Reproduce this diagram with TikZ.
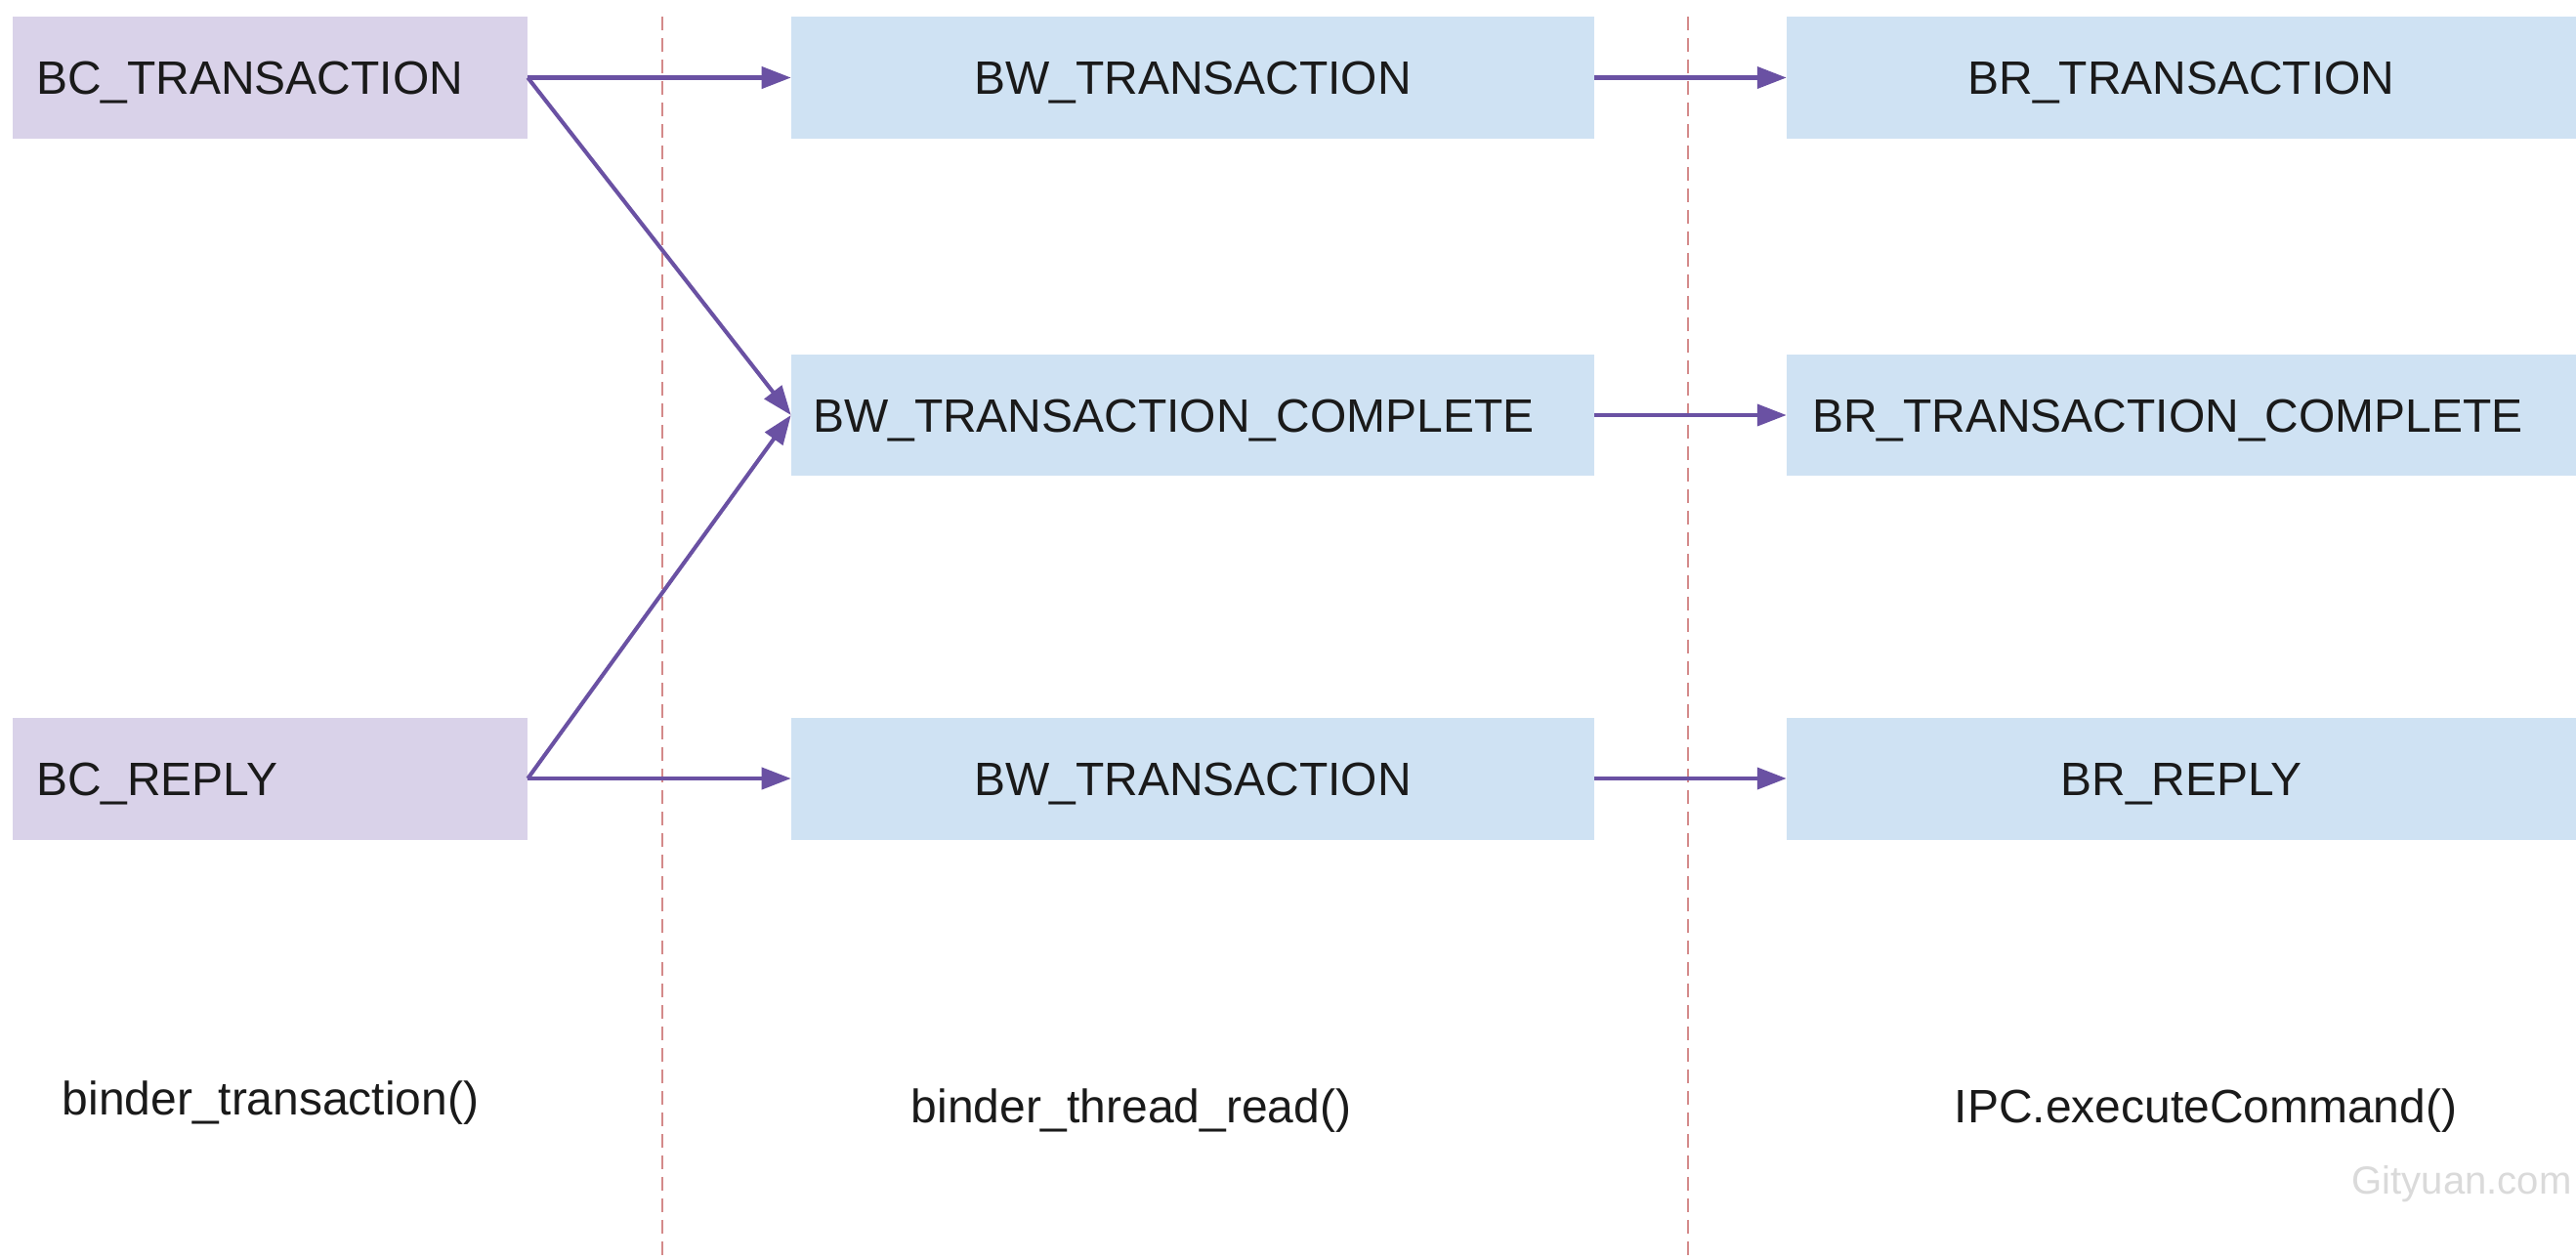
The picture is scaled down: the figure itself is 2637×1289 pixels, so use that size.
\documentclass[tikz,border=0pt]{standalone}
\usepackage{fontspec}
\setmainfont{Liberation Sans}
\usetikzlibrary{arrows.meta}
\definecolor{lav}{HTML}{D9D2E9}
\definecolor{lblue}{HTML}{CFE2F3}
\definecolor{arr}{HTML}{6A51A3}
\definecolor{sepc}{HTML}{D48A8A}
\definecolor{wm}{HTML}{DADADA}
\definecolor{txt}{HTML}{1A1A1A}
\begin{document}
\begin{tikzpicture}[x=0.02cm,y=-0.02cm,
  lab/.style={font=\fontsize{27.3}{32}\selectfont, text=txt},
  leftbox/.style={lab, minimum height=2.5cm, inner ysep=0pt, align=left, text height=19.5pt, text depth=0pt},
  ctrbox/.style={lab, minimum height=2.5cm, inner ysep=0pt, inner xsep=0pt, align=center, text height=19.5pt, text depth=0pt},
  bcbox/.style={leftbox, fill=lav, text width=9.58cm, inner xsep=0.48cm},
  bwwide/.style={leftbox, fill=lblue, text width=15.56cm, inner xsep=0.44cm},
  brwide/.style={leftbox, fill=lblue, text width=15.12cm, inner xsep=0.52cm},
  bwbox/.style={ctrbox, fill=lblue, minimum width=16.44cm},
  brbox/.style={ctrbox, fill=lblue, minimum width=16.16cm},
  flow/.style={draw=arr, line width=2.3pt, -{Triangle[length=0.6cm,width=0.44cm]}},
  sepline/.style={draw=sepc, line width=1.1pt, dash pattern=on 0.28cm off 0.16cm},
  caption/.style={lab}
]
\useasboundingbox (0,0) rectangle (2637,1289);
\fill[white] (0,0) rectangle (2637,1289);

% separators
\coordinate (s1t) at (678,17);
\coordinate (s1b) at (678,1289);
\coordinate (s2t) at (1728,17);
\coordinate (s2b) at (1728,1289);
\draw[sepline] (s1t) -- (s1b);
\draw[sepline] (s2t) -- (s2b);

% column 1
\node[bcbox] (bct) at (276.5,79.5) {BC\_TRANSACTION};
\node[bcbox] (bcr) at (276.5,797) {BC\_REPLY};

% column 2
\node[bwbox] (bw1) at (1221,79.5) {BW\_TRANSACTION};
\node[bwwide] (bwc) at (1221,425) {BW\_TRANSACTION\_COMPLETE};
\node[bwbox] (bw3) at (1221,797) {BW\_TRANSACTION};

% column 3
\node[brbox] (br1) at (2233,79.5) {BR\_TRANSACTION};
\node[brwide] (brc) at (2233,425) {BR\_TRANSACTION\_COMPLETE};
\node[brbox] (br3) at (2233,797) {BR\_REPLY};

% arrows
\draw[flow] (bct.east) -- (bw1.west);
\draw[flow] (bct.east) -- (bwc.west);
\draw[flow] (bcr.east) -- (bwc.west);
\draw[flow] (bcr.east) -- (bw3.west);
\draw[flow] (bw1.east) -- (br1.west);
\draw[flow] (bwc.east) -- (brc.west);
\draw[flow] (bw3.east) -- (br3.west);

% captions
\node[caption] (c1) at (277,1129) {binder\_transaction()};
\node[caption] (c2) at (1158,1137) {binder\_thread\_read()};
\node[caption] (c3) at (2258,1137) {IPC.executeCommand()};
\node[font=\fontsize{22.8}{26}\selectfont, text=wm] (wmk) at (2520,1212) {Gityuan.com};
\end{tikzpicture}
\end{document}
